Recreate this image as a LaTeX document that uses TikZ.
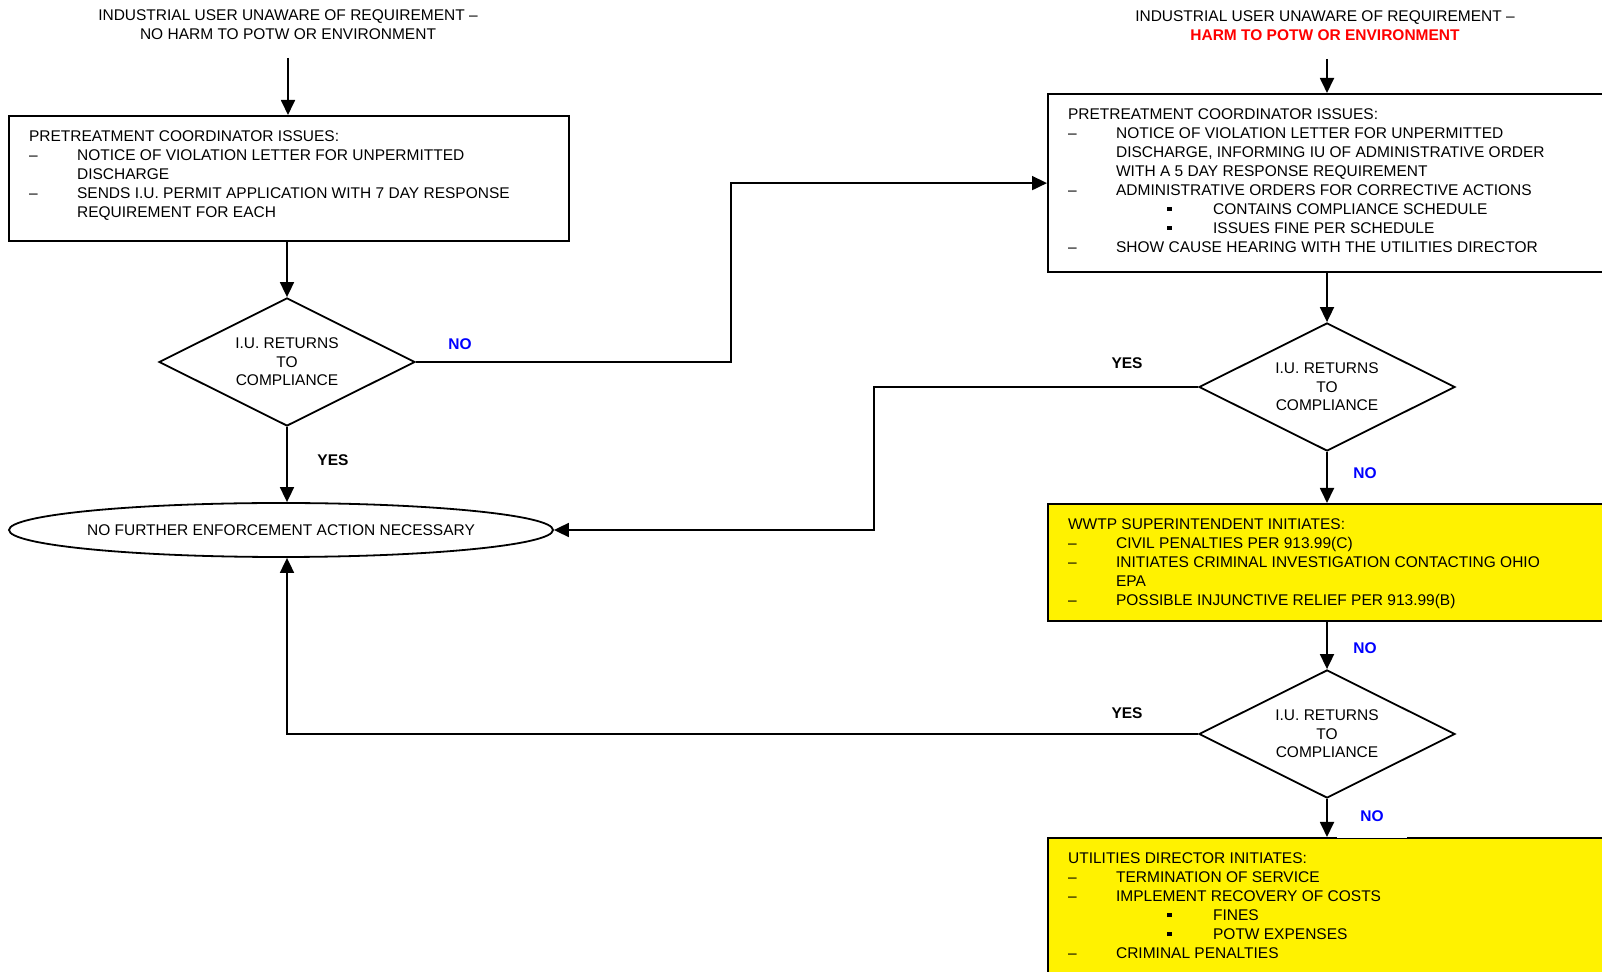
\documentclass[tikz,border=0pt]{standalone}
\usepackage{fontspec}
\setmainfont{Liberation Sans}
\usetikzlibrary{shapes.geometric,arrows.meta}
\newcommand\dashline[1]{\par\noindent\hangindent=24pt\hangafter=1\makebox[24pt][l]{\textendash}#1}
\newcommand\sqline[1]{\par\noindent\hspace*{49.5pt}\makebox[23pt][l]{\rule[1.7pt]{2.2pt}{2.2pt}}#1}
\newcommand\boxtext[3]{\begin{minipage}[c][#2][t]{#1}\strut#3\end{minipage}}
\begin{document}
\begin{tikzpicture}[x=0.5pt,y=-0.5pt,
    box/.style={draw,line width=1.1pt,anchor=north west,inner xsep=10pt,inner ysep=6pt,font=\fontsize{7.75}{9.5}\selectfont},
    ybox/.style={box,fill=yellow},
    dec/.style={diamond,aspect=2,draw,line width=0.9pt,minimum width=128pt,minimum height=64pt,inner sep=0pt,align=center,font=\fontsize{7.75}{9.2}\selectfont},
    stop/.style={ellipse,draw,line width=0.9pt,minimum width=272pt,minimum height=27pt,inner sep=0pt,font=\fontsize{7.75}{9.5}\selectfont},
    headtxt/.style={align=center,inner sep=0pt,font=\fontsize{7.75}{9.5}\selectfont},
    lbl/.style={inner sep=0pt,font=\bfseries\fontsize{7.75}{9.5}\selectfont},
    arr/.style={-{Triangle[length=7.5pt,width=7pt]},line width=0.9pt}]
  \clip (0,0) rectangle (1602,972);
  \fill[white] (0,0) rectangle (1602,972);
  \node[headtxt] (title1) at (288,25) {INDUSTRIAL USER UNAWARE OF REQUIREMENT \textendash\\NO HARM TO POTW OR ENVIRONMENT};
  \node[headtxt] (title2) at (1325,26) {INDUSTRIAL USER UNAWARE OF REQUIREMENT \textendash\\\textcolor{red}{\bfseries HARM TO POTW OR ENVIRONMENT}};
  \node[box] (box1) at (8,115) {\boxtext{260pt}{50.5pt}{PRETREATMENT COORDINATOR ISSUES:
    \dashline{NOTICE OF VIOLATION LETTER FOR UNPERMITTED\newline DISCHARGE}
    \dashline{SENDS I.U. PERMIT APPLICATION WITH 7 DAY RESPONSE\newline REQUIREMENT FOR EACH}}};
  \node[dec] (d1) at (287,362) {I.U. RETURNS\\TO\\COMPLIANCE};
  \node[stop] (done) at (281,530) {\makebox[0pt]{NO FURTHER ENFORCEMENT ACTION NECESSARY}};
  \node[box] (box2) at (1047,93) {\boxtext{300pt}{77pt}{PRETREATMENT COORDINATOR ISSUES:
    \dashline{NOTICE OF VIOLATION LETTER FOR UNPERMITTED\newline DISCHARGE, INFORMING IU OF ADMINISTRATIVE ORDER\newline WITH A 5 DAY RESPONSE REQUIREMENT}
    \dashline{ADMINISTRATIVE ORDERS FOR CORRECTIVE ACTIONS}
    \sqline{CONTAINS COMPLIANCE SCHEDULE}
    \sqline{ISSUES FINE PER SCHEDULE}
    \dashline{SHOW CAUSE HEARING WITH THE UTILITIES DIRECTOR}}};
  \node[dec] (d2) at (1327,387) {I.U. RETURNS\\TO\\COMPLIANCE};
  \node[ybox] (ybox1) at (1047,503) {\boxtext{300pt}{46.5pt}{WWTP SUPERINTENDENT INITIATES:
    \dashline{CIVIL PENALTIES PER 913.99(C)}
    \dashline{INITIATES CRIMINAL INVESTIGATION CONTACTING OHIO\newline EPA}
    \dashline{POSSIBLE INJUNCTIVE RELIEF PER 913.99(B)}}};
  \node[dec] (d3) at (1327,734) {I.U. RETURNS\\TO\\COMPLIANCE};
  \node[ybox] (ybox2) at (1047,837) {\boxtext{300pt}{55.5pt}{UTILITIES DIRECTOR INITIATES:
    \dashline{TERMINATION OF SERVICE}
    \dashline{IMPLEMENT RECOVERY OF COSTS}
    \sqline{FINES}
    \sqline{POTW EXPENSES}
    \dashline{CRIMINAL PENALTIES}}};
  \node[lbl,text=blue] (no1) at (460,344) {NO};
  \node[lbl] (yes1) at (333,460) {YES};
  \node[lbl] (yes2) at (1127,363) {YES};
  \node[lbl,text=blue] (no2) at (1365,473) {NO};
  \node[lbl,text=blue] (no3) at (1365,648) {NO};
  \node[lbl] (yes3) at (1127,713) {YES};
  \node[lbl,text=blue,fill=white,minimum width=35pt,minimum height=21.5pt] (no4) at (1372,816) {NO};
  \coordinate (in1) at (288,58);
  \coordinate (in2) at (1327,59);
  \coordinate (bend1) at (731,182);
  \coordinate (bend2) at (874,530);
  \begin{scope}[arr]
    \draw (in1) -- (in1 |- box1.north);
    \draw (d1.north |- box1.south) -- (d1.north);
    \draw (d1.south) -- (d1.south |- done.north);
    \draw (d1.east) -| (bend1 |- box2.west) -- (box2.west);
    \draw (in2) -- (in2 |- box2.north);
    \draw (d2.north |- box2.south) -- (d2.north);
    \draw (d2.west) -| (bend2 |- done.east) -- (done.east);
    \draw (d2.south) -- (d2.south |- ybox1.north);
    \draw (d3.north |- ybox1.south) -- (d3.north);
    \draw (d3.west) -| (d1.south |- done.south);
    \draw (d3.south) -- (d3.south |- ybox2.north);
  \end{scope}
\end{tikzpicture}
\end{document}
